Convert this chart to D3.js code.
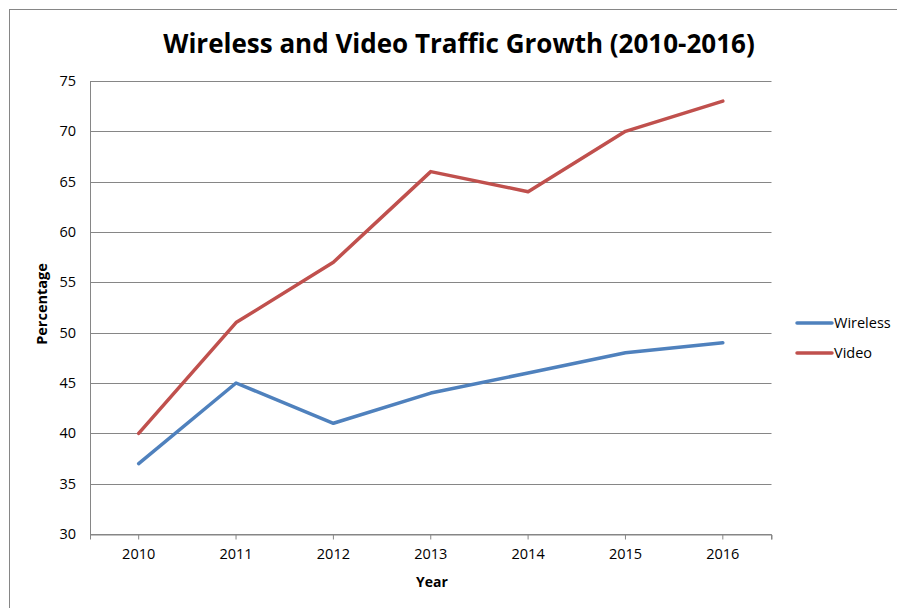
<!DOCTYPE html>
<html>
<head>
<meta charset="utf-8">
<script src="https://cdn.jsdelivr.net/npm/d3@7"></script>
<style>
  html, body { margin: 0; padding: 0; background: #fff; }
  svg { display: block; font-family: "Open Sans", "Noto Sans", sans-serif; }
</style>
</head>
<body>
<svg id="chart" width="897" height="608"></svg>
<script>
// Yearly share of traffic, in percent
const years = ["2010", "2011", "2012", "2013", "2014", "2015", "2016"];
const wireless = [37, 45, 41, 44, 46, 48, 49];
const video = [40, 51, 57, 66, 64, 70, 73];
const yTicks = [30, 35, 40, 45, 50, 55, 60, 65, 70, 75];
const seriesNames = ["Wireless", "Video"];
const seriesColors = ["#4F81BD", "#C0504D"];

const series = [
  { name: seriesNames[0], values: wireless, color: seriesColors[0] },
  { name: seriesNames[1], values: video, color: seriesColors[1] }
];

const svg = d3.select("#chart");
const plot = { left: 90, top: 81, right: 771.5, bottom: 534 };
const labelSize = 14.5;

// Outer chart frame
svg.append("rect")
  .attr("x", 9.5).attr("y", 9.5)
  .attr("width", 920).attr("height", 640)
  .attr("fill", "none").attr("stroke", "#868686").attr("stroke-width", 1);

const x = d3.scaleBand().domain(years).range([plot.left, plot.right]).padding(0);
const y = d3.scaleLinear().domain([30, 75]).range([plot.bottom, plot.top]);

// Horizontal gridlines
svg.append("g")
  .selectAll("line")
  .data(yTicks)
  .join("line")
  .attr("x1", plot.left).attr("x2", plot.right)
  .attr("y1", d => Math.round(y(d)) + 0.5).attr("y2", d => Math.round(y(d)) + 0.5)
  .attr("stroke", "#868686").attr("stroke-width", 1);

// Y axis line and labels
svg.append("line")
  .attr("x1", plot.left + 0.5).attr("x2", plot.left + 0.5)
  .attr("y1", plot.top).attr("y2", plot.bottom + 1)
  .attr("stroke", "#868686");

svg.append("g")
  .selectAll("text")
  .data(yTicks)
  .join("text")
  .attr("x", 76).attr("y", d => y(d))
  .attr("dy", "0.35em")
  .attr("text-anchor", "end")
  .attr("font-size", labelSize)
  .attr("fill", "#000")
  .text(d => d);

// X axis with ticks at category centres and at the right edge
const xAxis = d3.axisBottom(x).tickSizeOuter(0).tickSize(5).tickPadding(9);
const gx = svg.append("g")
  .attr("transform", `translate(0,${Math.round(plot.bottom) + 0.5})`)
  .call(xAxis);
gx.select(".domain").attr("stroke", "#868686");
gx.selectAll(".tick line").attr("stroke", "#868686");
gx.selectAll(".tick text")
  .attr("font-family", "'Open Sans', 'Noto Sans', sans-serif")
  .attr("font-size", labelSize).attr("fill", "#000");
gx.append("line")
  .attr("x1", plot.right).attr("x2", plot.right)
  .attr("y1", 0).attr("y2", 5)
  .attr("stroke", "#868686");

// Series lines
const line = d3.line()
  .x((d, i) => x(years[i]) + x.bandwidth() / 2)
  .y(d => y(d));

svg.append("g")
  .selectAll("path")
  .data(series)
  .join("path")
  .attr("d", d => line(d.values))
  .attr("fill", "none")
  .attr("stroke", d => d.color)
  .attr("stroke-width", 3.5)
  .attr("stroke-linejoin", "round")
  .attr("stroke-linecap", "round");

// Title
svg.append("text")
  .attr("x", 459).attr("y", 53)
  .attr("text-anchor", "middle")
  .attr("font-size", 26).attr("font-weight", "bold")
  .attr("fill", "#000")
  .text("Wireless and Video Traffic Growth (2010-2016)");

// Axis titles
svg.append("text")
  .attr("x", 432).attr("y", 587)
  .attr("text-anchor", "middle")
  .attr("font-size", 14).attr("font-weight", "bold")
  .text("Year");

svg.append("text")
  .attr("transform", "translate(47,304) rotate(-90)")
  .attr("text-anchor", "middle")
  .attr("font-size", 14.5).attr("font-weight", "bold")
  .text("Percentage");

// Legend
const legend = svg.append("g")
  .selectAll("g")
  .data(series)
  .join("g")
  .attr("transform", (d, i) => `translate(797,${323 + i * 30})`);
legend.append("line")
  .attr("x1", 0).attr("x2", 35)
  .attr("stroke", d => d.color)
  .attr("stroke-width", 3.5)
  .attr("stroke-linecap", "round");
legend.append("text")
  .attr("x", 37).attr("dy", "0.35em")
  .attr("font-size", labelSize)
  .text(d => d.name);
</script>
</body>
</html>
